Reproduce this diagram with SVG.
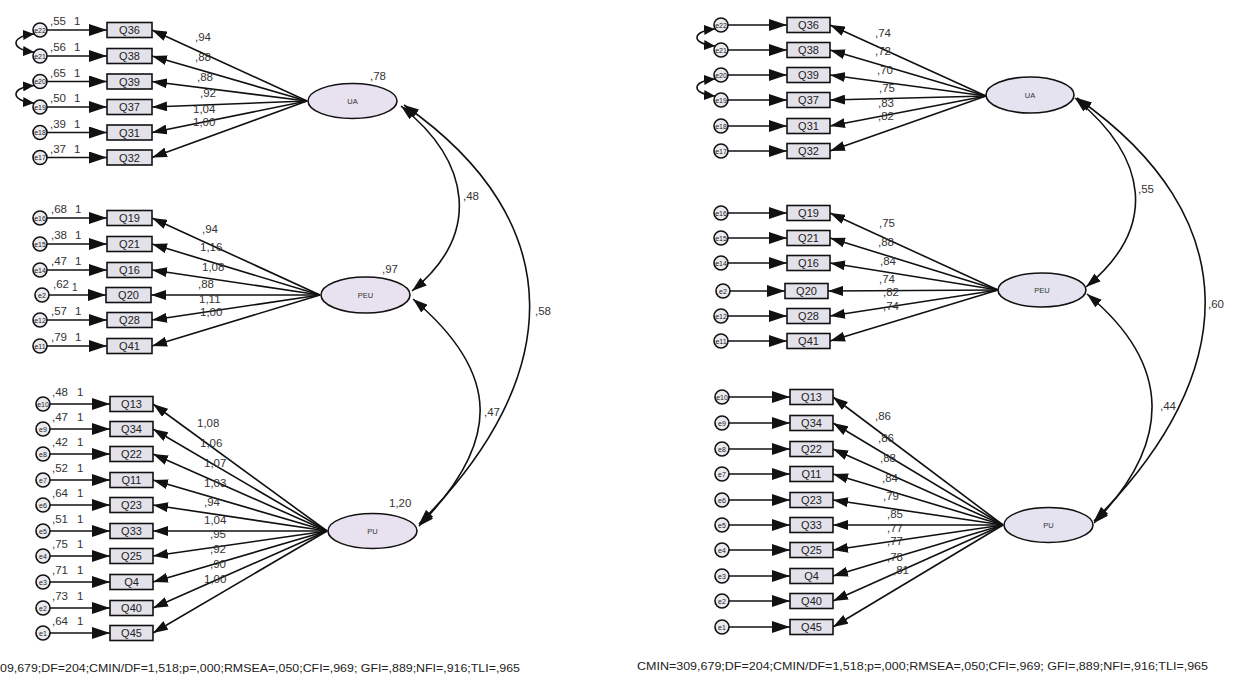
<svg xmlns="http://www.w3.org/2000/svg" width="1234" height="688" viewBox="0 0 1234 688">
<style>
text{font-family:"Liberation Sans",Arial,sans-serif;fill:#333}
.box{fill:#e3e1ea;stroke:#111;stroke-width:1.6}
.err{fill:#ebebef;stroke:#111;stroke-width:1.6}
.latL{fill:#e8e1ef;stroke:#111;stroke-width:1.6}
.latR{fill:#e4e3ef;stroke:#111;stroke-width:1.6}
.qt{font-size:11px;text-anchor:middle;fill:#222}
.et{font-size:7px;text-anchor:middle;fill:#222}
.lt{font-size:7.5px;text-anchor:middle;fill:#333}
.lb{font-size:11.5px}
.ln{stroke:#111;stroke-width:1.6;fill:none;marker-end:url(#a)}
.ea{stroke:#111;stroke-width:1.6;fill:none;marker-end:url(#b)}
.cv{stroke:#111;stroke-width:1.6;fill:none;marker-start:url(#a);marker-end:url(#a)}
.ec{stroke:#111;stroke-width:1.6;fill:none;marker-start:url(#s);marker-end:url(#s)}
.ft{font-size:10.5px;fill:#222}
</style>
<defs>
<marker id="a" viewBox="0 0 15 10" refX="15" refY="5" markerWidth="15" markerHeight="10" markerUnits="userSpaceOnUse" orient="auto-start-reverse"><path d="M0,0L15,5L0,10z" fill="#111"/></marker>
<marker id="b" viewBox="0 0 18 12" refX="18" refY="6" markerWidth="18" markerHeight="12" markerUnits="userSpaceOnUse" orient="auto"><path d="M0,0L18,6L0,12z" fill="#111"/></marker>
<marker id="s" viewBox="0 0 11 10" refX="11" refY="5" markerWidth="11" markerHeight="10" markerUnits="userSpaceOnUse" orient="auto-start-reverse"><path d="M0,0L11,5L0,10z" fill="#111"/></marker>
</defs>
<rect width="1234" height="688" fill="#fff"/>

<g id="connectors">
<path class="ln" d="M307,101L152,30"/>
<path class="ln" d="M307,101L152,56"/>
<path class="ln" d="M307,101L152,81.5"/>
<path class="ln" d="M307,101L152,107"/>
<path class="ln" d="M307,101L152,132.5"/>
<path class="ln" d="M307,101L152,157.5"/>
<path class="ln" d="M320,295L152,218"/>
<path class="ln" d="M320,295L152,244"/>
<path class="ln" d="M320,295L152,270"/>
<path class="ln" d="M320,295L151,295"/>
<path class="ln" d="M320,295L152,320"/>
<path class="ln" d="M320,295L152,346"/>
<path class="ln" d="M327,531L153,404"/>
<path class="ln" d="M327,531L153,429"/>
<path class="ln" d="M327,531L153,454"/>
<path class="ln" d="M327,531L153,480"/>
<path class="ln" d="M327,531L153,505"/>
<path class="ln" d="M327,531L153,531"/>
<path class="ln" d="M327,531L153,556"/>
<path class="ln" d="M327,531L153,582"/>
<path class="ln" d="M327,531L153,608"/>
<path class="ln" d="M327,531L153,633"/>
<path class="ea" d="M47,30L107,30"/>
<path class="ea" d="M47,56L107,56"/>
<path class="ea" d="M47,81.5L107,81.5"/>
<path class="ea" d="M47,107L107,107"/>
<path class="ea" d="M47,132.5L107,132.5"/>
<path class="ea" d="M47,157.5L107,157.5"/>
<path class="ea" d="M47,218L107,218"/>
<path class="ea" d="M47,244L107,244"/>
<path class="ea" d="M47,270L107,270"/>
<path class="ea" d="M49,295L106,295"/>
<path class="ea" d="M47,320L107,320"/>
<path class="ea" d="M47,346L107,346"/>
<path class="ea" d="M50,404L110,404"/>
<path class="ea" d="M50,429L110,429"/>
<path class="ea" d="M50,454L110,454"/>
<path class="ea" d="M50,480L110,480"/>
<path class="ea" d="M50,505L110,505"/>
<path class="ea" d="M50,531L110,531"/>
<path class="ea" d="M50,556L110,556"/>
<path class="ea" d="M50,582L110,582"/>
<path class="ea" d="M50,608L110,608"/>
<path class="ea" d="M50,633L110,633"/>
<path class="ec" d="M34,34C10,36 10,50 34,52"/>
<path class="ec" d="M34,85.5C10,87.5 10,101 34,103"/>
<path class="cv" d="M401,106C471,162 482,234 412,291"/>
<path class="cv" d="M404,105C573,223 565,378 419,524"/>
<path class="cv" d="M413,299C502,374 501,442 419,526"/>

<path class="ln" d="M986,96L830,25"/>
<path class="ln" d="M986,96L830,50"/>
<path class="ln" d="M986,96L830,75"/>
<path class="ln" d="M986,96L830,100"/>
<path class="ln" d="M986,96L830,126"/>
<path class="ln" d="M986,96L830,151"/>
<path class="ln" d="M998,290L830,213"/>
<path class="ln" d="M998,290L830,238"/>
<path class="ln" d="M998,290L830,263"/>
<path class="ln" d="M998,290L828,291"/>
<path class="ln" d="M998,290L830,316"/>
<path class="ln" d="M998,290L830,341"/>
<path class="ln" d="M1003,525L833,397"/>
<path class="ln" d="M1003,525L833,423"/>
<path class="ln" d="M1003,525L833,449"/>
<path class="ln" d="M1003,525L833,474"/>
<path class="ln" d="M1003,525L833,500"/>
<path class="ln" d="M1003,525L833,525"/>
<path class="ln" d="M1003,525L833,550"/>
<path class="ln" d="M1003,525L833,576"/>
<path class="ln" d="M1003,525L833,601"/>
<path class="ln" d="M1003,525L833,627"/>
<path class="ea" d="M728,25L787,25"/>
<path class="ea" d="M728,50L787,50"/>
<path class="ea" d="M728,75L787,75"/>
<path class="ea" d="M728,100L787,100"/>
<path class="ea" d="M728,126L787,126"/>
<path class="ea" d="M728,151L787,151"/>
<path class="ea" d="M728,213L787,213"/>
<path class="ea" d="M728,238L787,238"/>
<path class="ea" d="M728,263L787,263"/>
<path class="ea" d="M730,291L785,291"/>
<path class="ea" d="M728,316L787,316"/>
<path class="ea" d="M728,341L787,341"/>
<path class="ea" d="M729,397L790,397"/>
<path class="ea" d="M729,423L790,423"/>
<path class="ea" d="M729,449L790,449"/>
<path class="ea" d="M729,474L790,474"/>
<path class="ea" d="M729,500L790,500"/>
<path class="ea" d="M729,525L790,525"/>
<path class="ea" d="M729,550L790,550"/>
<path class="ea" d="M729,576L790,576"/>
<path class="ea" d="M729,601L790,601"/>
<path class="ea" d="M729,627L790,627"/>
<path class="ec" d="M715,29C691,31 691,44 715,46"/>
<path class="ec" d="M715,79C691,81 691,94 715,96"/>
<path class="cv" d="M1075,98C1148,158 1159,227 1086,287"/>
<path class="cv" d="M1077,98C1248,218 1242,373 1094,521"/>
<path class="cv" d="M1087,294C1173,365 1172,443 1094,523"/>
</g>

<g id="L-UA"><ellipse class="latL" cx="352.5" cy="101" rx="44.5" ry="17.5"/><text class="lt" x="352.5" y="104">UA</text><text class="lb" x="370" y="80">,78</text></g>
<g id="L-PEU"><ellipse class="latL" cx="365.5" cy="295" rx="44.5" ry="18"/><text class="lt" x="365.5" y="298">PEU</text><text class="lb" x="382" y="273">,97</text></g>
<g id="L-PU"><ellipse class="latL" cx="372.5" cy="531" rx="44.5" ry="17.5"/><text class="lt" x="372.5" y="534">PU</text><text class="lb" x="389" y="507">1,20</text></g>

<g id="L-Q36"><rect class="box" x="107" y="22.5" width="45" height="15"/><text class="qt" x="129.5" y="34">Q36</text></g>
<g id="L-Q38"><rect class="box" x="107" y="48.5" width="45" height="15"/><text class="qt" x="129.5" y="60">Q38</text></g>
<g id="L-Q39"><rect class="box" x="107" y="74" width="45" height="15"/><text class="qt" x="129.5" y="85.5">Q39</text></g>
<g id="L-Q37"><rect class="box" x="107" y="99.5" width="45" height="15"/><text class="qt" x="129.5" y="111">Q37</text></g>
<g id="L-Q31"><rect class="box" x="107" y="125" width="45" height="15"/><text class="qt" x="129.5" y="136.5">Q31</text></g>
<g id="L-Q32"><rect class="box" x="107" y="150" width="45" height="15"/><text class="qt" x="129.5" y="161.5">Q32</text></g>

<g id="L-Q19"><rect class="box" x="107" y="210.5" width="45" height="15"/><text class="qt" x="129.5" y="222">Q19</text></g>
<g id="L-Q21"><rect class="box" x="107" y="236.5" width="45" height="15"/><text class="qt" x="129.5" y="248">Q21</text></g>
<g id="L-Q16"><rect class="box" x="107" y="262.5" width="45" height="15"/><text class="qt" x="129.5" y="274">Q16</text></g>
<g id="L-Q20"><rect class="box" x="106" y="287.5" width="45" height="15"/><text class="qt" x="128.5" y="299">Q20</text></g>
<g id="L-Q28"><rect class="box" x="107" y="312.5" width="45" height="15"/><text class="qt" x="129.5" y="324">Q28</text></g>
<g id="L-Q41"><rect class="box" x="107" y="338.5" width="45" height="15"/><text class="qt" x="129.5" y="350">Q41</text></g>

<g id="L-Q13"><rect class="box" x="110" y="396.5" width="43" height="15"/><text class="qt" x="131.5" y="408">Q13</text></g>
<g id="L-Q34"><rect class="box" x="110" y="421.5" width="43" height="15"/><text class="qt" x="131.5" y="433">Q34</text></g>
<g id="L-Q22"><rect class="box" x="110" y="446.5" width="43" height="15"/><text class="qt" x="131.5" y="458">Q22</text></g>
<g id="L-Q11"><rect class="box" x="110" y="472.5" width="43" height="15"/><text class="qt" x="131.5" y="484">Q11</text></g>
<g id="L-Q23"><rect class="box" x="110" y="497.5" width="43" height="15"/><text class="qt" x="131.5" y="509">Q23</text></g>
<g id="L-Q33"><rect class="box" x="110" y="523.5" width="43" height="15"/><text class="qt" x="131.5" y="535">Q33</text></g>
<g id="L-Q25"><rect class="box" x="110" y="548.5" width="43" height="15"/><text class="qt" x="131.5" y="560">Q25</text></g>
<g id="L-Q4"><rect class="box" x="110" y="574.5" width="43" height="15"/><text class="qt" x="131.5" y="586">Q4</text></g>
<g id="L-Q40"><rect class="box" x="110" y="600.5" width="43" height="15"/><text class="qt" x="131.5" y="612">Q40</text></g>
<g id="L-Q45"><rect class="box" x="110" y="625.5" width="43" height="15"/><text class="qt" x="131.5" y="637">Q45</text></g>

<g id="L-e22"><circle class="err" cx="40" cy="30" r="7"/><text class="et" x="40" y="32.5">e22</text><text class="lb" x="50" y="25">,55</text><text class="lb" x="74" y="25">1</text></g>
<g id="L-e21"><circle class="err" cx="40" cy="56" r="7"/><text class="et" x="40" y="58.5">e21</text><text class="lb" x="50" y="51">,56</text><text class="lb" x="74" y="51">1</text></g>
<g id="L-e20"><circle class="err" cx="40" cy="81.5" r="7"/><text class="et" x="40" y="84">e20</text><text class="lb" x="50" y="76.5">,65</text><text class="lb" x="74" y="76.5">1</text></g>
<g id="L-e19"><circle class="err" cx="40" cy="107" r="7"/><text class="et" x="40" y="109.5">e19</text><text class="lb" x="50" y="102">,50</text><text class="lb" x="74" y="102">1</text></g>
<g id="L-e18"><circle class="err" cx="40" cy="132.5" r="7"/><text class="et" x="40" y="135">e18</text><text class="lb" x="50" y="127.5">,39</text><text class="lb" x="74" y="127.5">1</text></g>
<g id="L-e17"><circle class="err" cx="40" cy="157.5" r="7"/><text class="et" x="40" y="160">e17</text><text class="lb" x="50" y="152.5">,37</text><text class="lb" x="74" y="152.5">1</text></g>

<g id="L-e16"><circle class="err" cx="40" cy="218" r="7"/><text class="et" x="40" y="220.5">e16</text><text class="lb" x="51" y="213">,68</text><text class="lb" x="75" y="213">1</text></g>
<g id="L-e15"><circle class="err" cx="40" cy="244" r="7"/><text class="et" x="40" y="246.5">e15</text><text class="lb" x="51" y="239">,38</text><text class="lb" x="75" y="239">1</text></g>
<g id="L-e14"><circle class="err" cx="40" cy="270" r="7"/><text class="et" x="40" y="272.5">e14</text><text class="lb" x="51" y="265">,47</text><text class="lb" x="75" y="265">1</text></g>
<g id="L-e2b"><circle class="err" cx="42" cy="295" r="7"/><text class="et" x="42" y="297.5">e2</text><text class="lb" x="53" y="288">,62</text><text class="lb" x="72" y="291" style="font-size:10px">1</text></g>
<g id="L-e12"><circle class="err" cx="40" cy="320" r="7"/><text class="et" x="40" y="322.5">e12</text><text class="lb" x="51" y="315">,57</text><text class="lb" x="75" y="315">1</text></g>
<g id="L-e11"><circle class="err" cx="40" cy="346" r="7"/><text class="et" x="40" y="348.5">e11</text><text class="lb" x="51" y="341">,79</text><text class="lb" x="75" y="341">1</text></g>

<g id="L-e10"><circle class="err" cx="43" cy="404" r="7"/><text class="et" x="43" y="406.5">e10</text><text class="lb" x="52" y="396">,48</text><text class="lb" x="77" y="396">1</text></g>
<g id="L-e9"><circle class="err" cx="43" cy="429" r="7"/><text class="et" x="43" y="431.5">e9</text><text class="lb" x="52" y="421">,47</text><text class="lb" x="77" y="421">1</text></g>
<g id="L-e8"><circle class="err" cx="43" cy="454" r="7"/><text class="et" x="43" y="456.5">e8</text><text class="lb" x="52" y="446">,42</text><text class="lb" x="77" y="446">1</text></g>
<g id="L-e7"><circle class="err" cx="43" cy="480" r="7"/><text class="et" x="43" y="482.5">e7</text><text class="lb" x="52" y="472">,52</text><text class="lb" x="77" y="472">1</text></g>
<g id="L-e6"><circle class="err" cx="43" cy="505" r="7"/><text class="et" x="43" y="507.5">e6</text><text class="lb" x="52" y="497">,64</text><text class="lb" x="77" y="497">1</text></g>
<g id="L-e5"><circle class="err" cx="43" cy="531" r="7"/><text class="et" x="43" y="533.5">e5</text><text class="lb" x="52" y="523">,51</text><text class="lb" x="77" y="523">1</text></g>
<g id="L-e4"><circle class="err" cx="43" cy="556" r="7"/><text class="et" x="43" y="558.5">e4</text><text class="lb" x="52" y="548">,75</text><text class="lb" x="77" y="548">1</text></g>
<g id="L-e3"><circle class="err" cx="43" cy="582" r="7"/><text class="et" x="43" y="584.5">e3</text><text class="lb" x="52" y="574">,71</text><text class="lb" x="77" y="574">1</text></g>
<g id="L-e2"><circle class="err" cx="43" cy="608" r="7"/><text class="et" x="43" y="610.5">e2</text><text class="lb" x="52" y="600">,73</text><text class="lb" x="77" y="600">1</text></g>
<g id="L-e1"><circle class="err" cx="43" cy="633" r="7"/><text class="et" x="43" y="635.5">e1</text><text class="lb" x="52" y="625">,64</text><text class="lb" x="77" y="625">1</text></g>

<g id="L-loadings">
<text class="lb" x="195" y="41">,94</text>
<text class="lb" x="195" y="61">,88</text>
<text class="lb" x="197" y="81">,88</text>
<text class="lb" x="200" y="97">,92</text>
<text class="lb" x="193" y="113">1,04</text>
<text class="lb" x="193" y="126">1,00</text>
<text class="lb" x="202" y="233">,94</text>
<text class="lb" x="200" y="251">1,16</text>
<text class="lb" x="202" y="271">1,08</text>
<text class="lb" x="198" y="288">,88</text>
<text class="lb" x="199" y="303">1,11</text>
<text class="lb" x="200" y="316">1,00</text>
<text class="lb" x="197" y="427">1,08</text>
<text class="lb" x="200" y="447">1,06</text>
<text class="lb" x="204" y="467">1,07</text>
<text class="lb" x="204" y="487">1,03</text>
<text class="lb" x="204" y="506">,94</text>
<text class="lb" x="204" y="524">1,04</text>
<text class="lb" x="210" y="538">,95</text>
<text class="lb" x="210" y="553">,92</text>
<text class="lb" x="210" y="568">,90</text>
<text class="lb" x="204" y="583">1,00</text>
<text class="lb" x="463" y="200">,48</text>
<text class="lb" x="535" y="315">,58</text>
<text class="lb" x="484" y="416">,47</text>
</g>

<g id="R-UA"><ellipse class="latR" cx="1030" cy="95" rx="44" ry="18"/><text class="lt" x="1030" y="98">UA</text></g>
<g id="R-PEU"><ellipse class="latR" cx="1042" cy="290" rx="44" ry="17"/><text class="lt" x="1042" y="293">PEU</text></g>
<g id="R-PU"><ellipse class="latR" cx="1048.5" cy="525" rx="44.5" ry="17.5"/><text class="lt" x="1048.5" y="528">PU</text></g>

<g id="R-Q36"><rect class="box" x="787" y="17.5" width="43" height="15"/><text class="qt" x="808.5" y="29">Q36</text></g>
<g id="R-Q38"><rect class="box" x="787" y="42.5" width="43" height="15"/><text class="qt" x="808.5" y="54">Q38</text></g>
<g id="R-Q39"><rect class="box" x="787" y="67.5" width="43" height="15"/><text class="qt" x="808.5" y="79">Q39</text></g>
<g id="R-Q37"><rect class="box" x="787" y="92.5" width="43" height="15"/><text class="qt" x="808.5" y="104">Q37</text></g>
<g id="R-Q31"><rect class="box" x="787" y="118.5" width="43" height="15"/><text class="qt" x="808.5" y="130">Q31</text></g>
<g id="R-Q32"><rect class="box" x="787" y="143.5" width="43" height="15"/><text class="qt" x="808.5" y="155">Q32</text></g>

<g id="R-Q19"><rect class="box" x="787" y="205.5" width="43" height="15"/><text class="qt" x="808.5" y="217">Q19</text></g>
<g id="R-Q21"><rect class="box" x="787" y="230.5" width="43" height="15"/><text class="qt" x="808.5" y="242">Q21</text></g>
<g id="R-Q16"><rect class="box" x="787" y="255.5" width="43" height="15"/><text class="qt" x="808.5" y="267">Q16</text></g>
<g id="R-Q20"><rect class="box" x="785" y="283.5" width="43" height="15"/><text class="qt" x="806.5" y="295">Q20</text></g>
<g id="R-Q28"><rect class="box" x="787" y="308.5" width="43" height="15"/><text class="qt" x="808.5" y="320">Q28</text></g>
<g id="R-Q41"><rect class="box" x="787" y="333.5" width="43" height="15"/><text class="qt" x="808.5" y="345">Q41</text></g>

<g id="R-Q13"><rect class="box" x="790" y="389.5" width="43" height="15"/><text class="qt" x="811.5" y="401">Q13</text></g>
<g id="R-Q34"><rect class="box" x="790" y="415.5" width="43" height="15"/><text class="qt" x="811.5" y="427">Q34</text></g>
<g id="R-Q22"><rect class="box" x="790" y="441.5" width="43" height="15"/><text class="qt" x="811.5" y="453">Q22</text></g>
<g id="R-Q11"><rect class="box" x="790" y="466.5" width="43" height="15"/><text class="qt" x="811.5" y="478">Q11</text></g>
<g id="R-Q23"><rect class="box" x="790" y="492.5" width="43" height="15"/><text class="qt" x="811.5" y="504">Q23</text></g>
<g id="R-Q33"><rect class="box" x="790" y="517.5" width="43" height="15"/><text class="qt" x="811.5" y="529">Q33</text></g>
<g id="R-Q25"><rect class="box" x="790" y="542.5" width="43" height="15"/><text class="qt" x="811.5" y="554">Q25</text></g>
<g id="R-Q4"><rect class="box" x="790" y="568.5" width="43" height="15"/><text class="qt" x="811.5" y="580">Q4</text></g>
<g id="R-Q40"><rect class="box" x="790" y="593.5" width="43" height="15"/><text class="qt" x="811.5" y="605">Q40</text></g>
<g id="R-Q45"><rect class="box" x="790" y="619.5" width="43" height="15"/><text class="qt" x="811.5" y="631">Q45</text></g>

<g id="R-e22"><circle class="err" cx="721" cy="25" r="7"/><text class="et" x="721" y="27.5">e22</text></g>
<g id="R-e21"><circle class="err" cx="721" cy="50" r="7"/><text class="et" x="721" y="52.5">e21</text></g>
<g id="R-e20"><circle class="err" cx="721" cy="75" r="7"/><text class="et" x="721" y="77.5">e20</text></g>
<g id="R-e19"><circle class="err" cx="721" cy="100" r="7"/><text class="et" x="721" y="102.5">e19</text></g>
<g id="R-e18"><circle class="err" cx="721" cy="126" r="7"/><text class="et" x="721" y="128.5">e18</text></g>
<g id="R-e17"><circle class="err" cx="721" cy="151" r="7"/><text class="et" x="721" y="153.5">e17</text></g>
<g id="R-e16"><circle class="err" cx="721" cy="213" r="7"/><text class="et" x="721" y="215.5">e16</text></g>
<g id="R-e15"><circle class="err" cx="721" cy="238" r="7"/><text class="et" x="721" y="240.5">e15</text></g>
<g id="R-e14"><circle class="err" cx="721" cy="263" r="7"/><text class="et" x="721" y="265.5">e14</text></g>
<g id="R-e2b"><circle class="err" cx="723" cy="291" r="7"/><text class="et" x="723" y="293.5">e2</text></g>
<g id="R-e12"><circle class="err" cx="721" cy="316" r="7"/><text class="et" x="721" y="318.5">e12</text></g>
<g id="R-e11"><circle class="err" cx="721" cy="341" r="7"/><text class="et" x="721" y="343.5">e11</text></g>
<g id="R-e10"><circle class="err" cx="722" cy="397" r="7"/><text class="et" x="722" y="399.5">e10</text></g>
<g id="R-e9"><circle class="err" cx="722" cy="423" r="7"/><text class="et" x="722" y="425.5">e9</text></g>
<g id="R-e8"><circle class="err" cx="722" cy="449" r="7"/><text class="et" x="722" y="451.5">e8</text></g>
<g id="R-e7"><circle class="err" cx="722" cy="474" r="7"/><text class="et" x="722" y="476.5">e7</text></g>
<g id="R-e6"><circle class="err" cx="722" cy="500" r="7"/><text class="et" x="722" y="502.5">e6</text></g>
<g id="R-e5"><circle class="err" cx="722" cy="525" r="7"/><text class="et" x="722" y="527.5">e5</text></g>
<g id="R-e4"><circle class="err" cx="722" cy="550" r="7"/><text class="et" x="722" y="552.5">e4</text></g>
<g id="R-e3"><circle class="err" cx="722" cy="576" r="7"/><text class="et" x="722" y="578.5">e3</text></g>
<g id="R-e2"><circle class="err" cx="722" cy="601" r="7"/><text class="et" x="722" y="603.5">e2</text></g>
<g id="R-e1"><circle class="err" cx="722" cy="627" r="7"/><text class="et" x="722" y="629.5">e1</text></g>

<g id="R-loadings">
<text class="lb" x="875" y="37">,74</text>
<text class="lb" x="875" y="55">,72</text>
<text class="lb" x="877" y="74">,70</text>
<text class="lb" x="879" y="92">,75</text>
<text class="lb" x="878" y="107">,83</text>
<text class="lb" x="878" y="120">,82</text>
<text class="lb" x="879" y="227">,75</text>
<text class="lb" x="878" y="246">,88</text>
<text class="lb" x="880" y="265">,84</text>
<text class="lb" x="879" y="283">,74</text>
<text class="lb" x="883" y="296">,82</text>
<text class="lb" x="883" y="310">,74</text>
<text class="lb" x="875" y="420">,86</text>
<text class="lb" x="878" y="442">,86</text>
<text class="lb" x="880" y="462">,88</text>
<text class="lb" x="882" y="482">,84</text>
<text class="lb" x="883" y="500">,79</text>
<text class="lb" x="887" y="518">,85</text>
<text class="lb" x="887" y="532">,77</text>
<text class="lb" x="887" y="545">,77</text>
<text class="lb" x="887" y="561">,78</text>
<text class="lb" x="893" y="574">,81</text>
<text class="lb" x="1138" y="193">,55</text>
<text class="lb" x="1208" y="308">,60</text>
<text class="lb" x="1160" y="410">,44</text>
</g>

<g id="fit-stats">
<text class="ft" x="0" y="672" textLength="520" lengthAdjust="spacingAndGlyphs">09,679;DF=204;CMIN/DF=1,518;p=,000;RMSEA=,050;CFI=,969; GFI=,889;NFI=,916;TLI=,965</text>
<text class="ft" x="637" y="670" textLength="571" lengthAdjust="spacingAndGlyphs">CMIN=309,679;DF=204;CMIN/DF=1,518;p=,000;RMSEA=,050;CFI=,969; GFI=,889;NFI=,916;TLI=,965</text>
</g>
</svg>
